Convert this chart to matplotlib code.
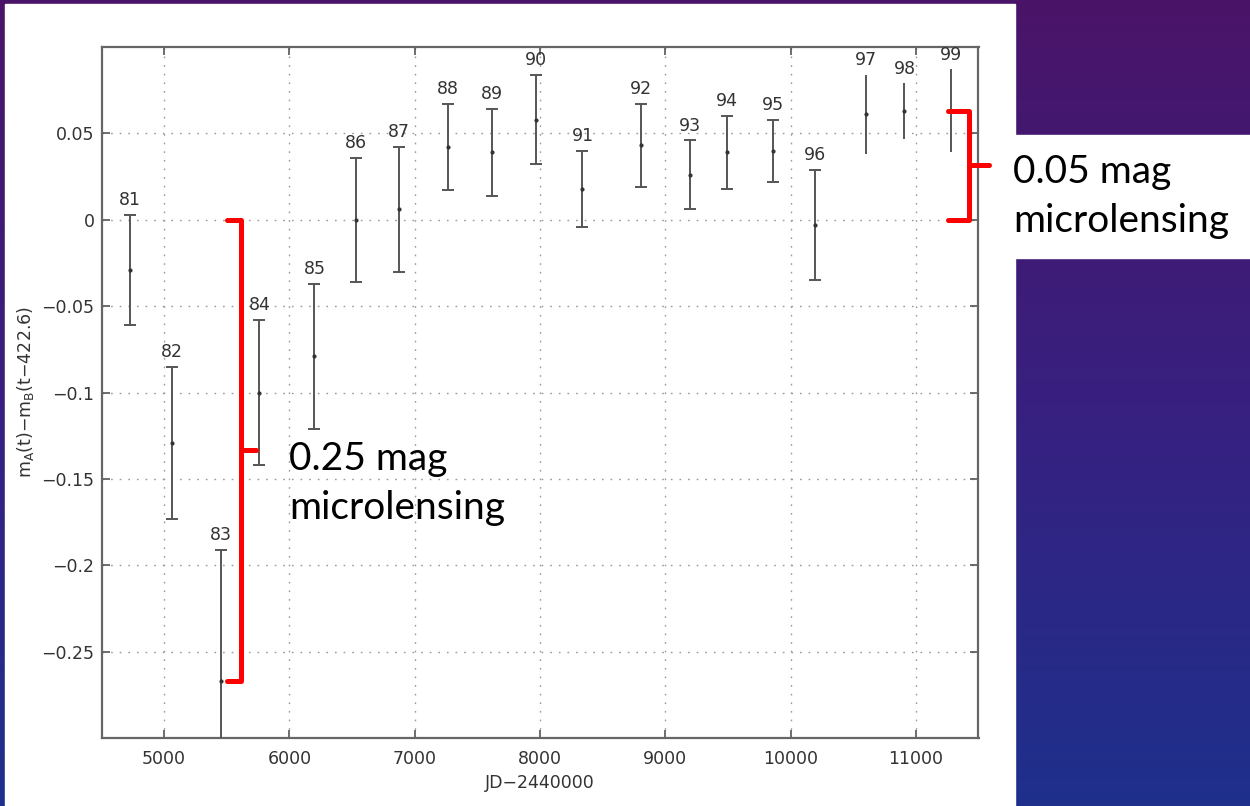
import numpy as np
import matplotlib
matplotlib.use('Agg')
import matplotlib.pyplot as plt
from matplotlib.patches import Rectangle

plt.rcParams['font.family'] = ['DejaVu Sans']
plt.rcParams['mathtext.default'] = 'regular'

# yearly magnitude differences A-B (time delay 422.6 d)
seasons = ['81', '82', '83', '84', '85', '86', '87', '88', '89', '90',
           '91', '92', '93', '94', '95', '96', '97', '98', '99']
jd = [4725, 5062, 5456, 5760, 6200, 6528, 6874, 7267, 7618, 7968,
      8339, 8805, 9198, 9495, 9860, 10191, 10601, 10909, 11280]
dmag = [-0.029, -0.129, -0.267, -0.100, -0.079, 0.000, 0.006, 0.042, 0.039, 0.058,
        0.018, 0.043, 0.026, 0.039, 0.040, -0.003, 0.061, 0.063, 0.063]
err = [0.032, 0.044, 0.076, 0.042, 0.042, 0.036, 0.036, 0.025, 0.025, 0.026,
       0.022, 0.024, 0.020, 0.021, 0.018, 0.032, 0.023, 0.016, 0.024]

xticks = [5000, 6000, 7000, 8000, 9000, 10000, 11000]
yticks = [-0.25, -0.2, -0.15, -0.1, -0.05, 0, 0.05]
ytick_labels = ['\u22120.25', '\u22120.2', '\u22120.15', '\u22120.1', '\u22120.05', '0', '0.05']

W, H = 1250, 806
fig = plt.figure(figsize=(W / 100, H / 100), dpi=100)


def px(x, y):
    return x / W, 1 - y / H


# slide background: purple at the top fading into blue
bg = fig.add_axes([0, 0, 1, 1], zorder=-10)
top = np.array([74, 20, 104]) / 255
mid = np.array([56, 32, 128]) / 255
bot = np.array([30, 48, 140]) / 255
grad = np.empty((H, 1, 3))
for i in range(H):
    f = i / (H - 1)
    if f < 0.5:
        grad[i, 0] = top + (mid - top) * f / 0.5
    else:
        grad[i, 0] = mid + (bot - mid) * (f - 0.5) / 0.5
bg.imshow(np.repeat(grad, 4, axis=1), aspect='auto', extent=[0, 1, 0, 1])
bg.axis('off')

# white panel behind the plot and behind the right-hand note
x0, y0 = px(5, 806)
x1, y1 = px(1015, 4)
fig.patches.append(Rectangle((x0, y0), x1 - x0, y1 - y0, transform=fig.transFigure,
                             color='white', zorder=-5))
x0, y0 = px(1014, 258)
x1, y1 = px(1250, 135)
fig.patches.append(Rectangle((x0, y0), x1 - x0, y1 - y0, transform=fig.transFigure,
                             color='white', zorder=-5))

l, b = px(101.5, 738)
r, tp = px(978.5, 47)
ax = fig.add_axes([l, b, r - l, tp - b])
ax.set_facecolor('white')

# seasons 81-96 with caps, the last three without
ax.errorbar(jd[:16], dmag[:16], yerr=err[:16], fmt='.', color='#333', ecolor='#555',
            elinewidth=1.4, capsize=4.5, capthick=1.4, markersize=4, zorder=3)
ax.errorbar(jd[16:], dmag[16:], yerr=err[16:], fmt='.', color='#333', ecolor='#555',
            elinewidth=1.4, capsize=0, markersize=4, zorder=3)

for s, x, y, e in zip(seasons, jd, dmag, err):
    ax.annotate(s, (x, y + e), xytext=(0, 7), textcoords='offset points',
                ha='center', va='baseline', fontsize=12.5, color='#333',
                annotation_clip=False)

ax.set_xlim(4500, 11500)
ax.set_ylim(-0.3, 0.1)
ax.set_xticks(xticks)
ax.set_xticklabels([str(v) for v in xticks])
ax.set_yticks(yticks)
ax.set_yticklabels(ytick_labels)
ax.tick_params(direction='in', length=6, width=1.2, color='#555',
               top=True, right=True, labelsize=12.5, labelcolor='#333')
ax.tick_params(axis='x', pad=9)
ax.tick_params(axis='y', pad=5)
ax.grid(True, color='#999', linewidth=1, linestyle=(0, (1.2, 5)))
for sp in ax.spines.values():
    sp.set_color('#666')
    sp.set_linewidth(1.6)

ax.set_xlabel('JD\u22122440000', fontsize=12.5, color='#333', labelpad=4)
ax.set_ylabel('m$_A$(t)\u2212m$_B$(t\u2212422.6)', fontsize=12.5, color='#333', labelpad=4)

# red brackets marking the microlensing amplitude
red = dict(color='red', lw=3.6, clip_on=False, solid_capstyle='round',
           solid_joinstyle='round', zorder=5)
xa, xb = jd[2] + 48, jd[2] + 160
ax.plot([xa, xb, xb, xa], [0, 0, dmag[2], dmag[2]], **red)
ax.plot([xb, xb + 120], [dmag[2] / 2] * 2, **red)

xa, xb = jd[-1] - 26, jd[-1] + 144
ax.plot([xa, xb, xb, xa], [dmag[-1], dmag[-1], 0, 0], **red)
ax.plot([xb, xb + 160], [dmag[-1] / 2] * 2, **red)

note = dict(fontsize=28, family=['Lato', 'DejaVu Sans'], color='black',
            va='top', ha='left', linespacing=1.45)
fig.text(*px(289, 441), '0.25 mag\nmicrolensing', **note)
fig.text(*px(1013, 154), '0.05 mag\nmicrolensing', **note)

fig.savefig('out.png', dpi=100)
